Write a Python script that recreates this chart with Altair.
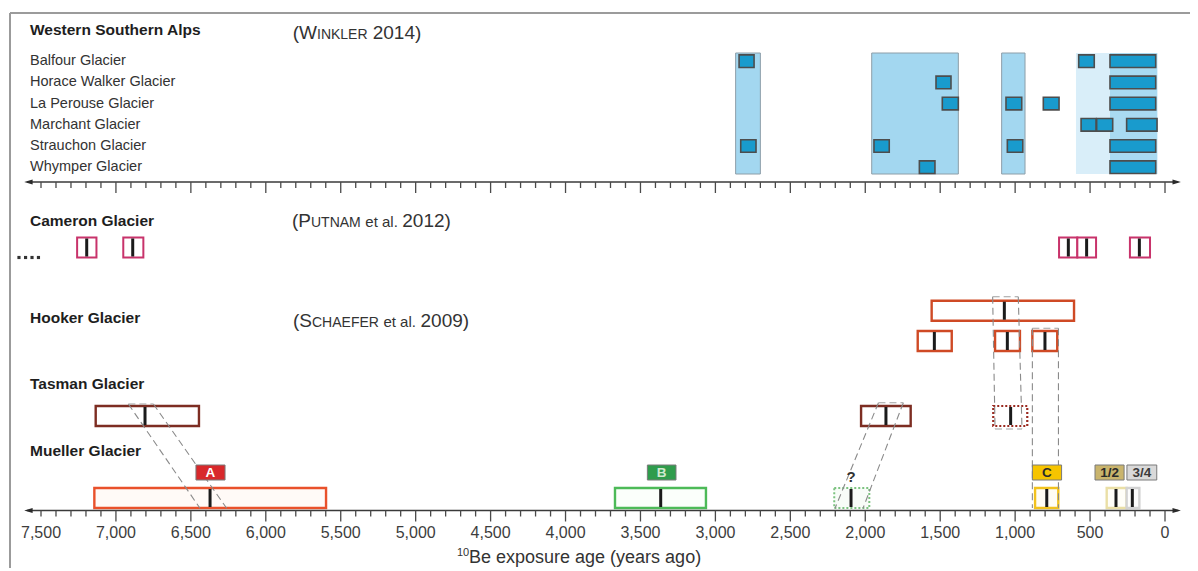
import altair as alt
import pandas as pd

# ================= DATA (ages in years before present) =================
TICK_YEARS = list(range(0, 7501, 100))
LABEL_YEARS = list(range(0, 7501, 500))
TICK_LABELS = ["0", "500", "1,000", "1,500", "2,000", "2,500", "3,000", "3,500",
               "4,000", "4,500", "5,000", "5,500", "6,000", "6,500", "7,000", "7,500"]

WSA_GLACIERS = ["Balfour Glacier", "Horace Walker Glacier", "La Perouse Glacier",
                "Marchant Glacier", "Strauchon Glacier", "Whymper Glacier"]

# Winkler 2014 shaded age bands (older edge, younger edge)
WSA_BAND_OLD = [2865, 1957, 1090, 594, 367]
WSA_BAND_YOUNG = [2700, 1379, 934, 367, 51]

# Winkler 2014 individual moraine ages
WSA_BOX_GLACIER = (["Balfour Glacier"] * 3 + ["Horace Walker Glacier"] * 2 +
                   ["La Perouse Glacier"] * 4 + ["Marchant Glacier"] * 3 +
                   ["Strauchon Glacier"] * 4 + ["Whymper Glacier"] * 2)
WSA_BOX_OLD = [2842, 576, 367, 1528, 367, 1486, 1061, 812, 367,
               560, 456, 256, 2831, 1942, 1052, 367, 1639, 367]
WSA_BOX_YOUNG = [2742, 472, 62, 1428, 62, 1379, 956, 707, 62,
                 460, 349, 53, 2729, 1840, 949, 62, 1535, 62]

# 10Be moraine ages: range and mean
AGE_SITE = ["Cameron"] * 5 + ["Hooker"] * 4 + ["Tasman"] * 3 + ["Mueller"] * 6
AGE_ID = ["C1", "C2", "C3", "C4", "C5", "H1", "H2", "H3", "H4",
          "T1", "T2", "T3", "A", "B", "?", "C", "1/2", "3/4"]
AGE_OLD = [7259, 6951, 707, 585, 234, 1557, 1650, 1134, 885,
           7135, 2028, 1146, 7144, 3670, 2207, 867, 389, 256]
AGE_YOUNG = [7130, 6817, 585, 460, 100, 607, 1423, 968, 719,
             6446, 1697, 919, 5598, 3063, 1973, 712, 256, 171]
AGE_MEAN = [7195, 6888, 645, 523, 171, 1072, 1539, 1052, 801,
            6806, 1862, 1030, 6372, 3365, 2095, 789, 327, 218]

MUELLER_LABEL = ["A", "B", "C", "1/2", "3/4"]
MUELLER_LABEL_OLD = [6466, 3454, 885, 467, 254]
MUELLER_LABEL_YOUNG = [6272, 3263, 690, 273, 55]

# dashed correlation lines (year at upper end, year at lower end)
LINK_YEAR_TOP = [6917, 6750, 1912, 1746, 1150, 979, 885, 711]
LINK_YEAR_BOTTOM = [6439, 6261, 2202, 2015, 1134, 954, 885, 711]
CAP_YEAR_OLD = [6917, 1912, 1150, 1134, 885]
CAP_YEAR_YOUNG = [6750, 1746, 979, 954, 711]

DOTS_YEAR = [7647, 7603, 7560, 7517]
AXIS_START, AXIS_END = 7592, -88
ARROW_LEFT, ARROW_RIGHT = 7584, -78

# ================= LAYOUT / STYLE =================
W, H = 1182, 560
FONT = "Liberation Sans"
XS = alt.Scale(domain=[7500, 0], range=[33, 1157])
YS = alt.Scale(domain=[0, H], range=[0, H])

WSA_ROW_Y = dict(zip(WSA_GLACIERS, [53.2, 74.4, 95.6, 116.8, 138.0, 159.2]))
WSA_BAND_TOP, WSA_BAND_BOTTOM = 45, 166
WSA_BOX_HALF = 6.3
WSA_BAND_STYLE = [("#a3d7f0", "#8d9ea8"), ("#a3d7f0", "#8d9ea8"), ("#a3d7f0", "#8d9ea8"),
                  ("#d9eef9", "transparent"), ("#a9daf1", "transparent")]

SITE_ROW_Y = {"Cameron": 239.5, "Tasman": 408, "Mueller": 490}
ID_ROW_Y = {"H1": 302.7, "H2": 333, "H3": 333, "H4": 333}
BOX_HALF = 10

SITE_STYLE = {"Cameron": ("#c8336b", "#ffffff", 2.0, False),
              "Hooker": ("#cf4a25", "#ffffff", 2.4, False),
              "Tasman": ("#7d2d22", "#ffffff", 2.4, False)}
ID_STYLE = {"T3": ("#9a2a20", "#ffffff", 2.2, True),
            "A": ("#e9512b", "#fffaf7", 2.4, False),
            "B": ("#4dba58", "#fbfffb", 2.4, False),
            "?": ("#7cc380", "#f8fcf8", 2.0, True),
            "C": ("#f2c21d", "#fffdf4", 2.4, False),
            "1/2": ("#eadfa6", "#fffef8", 2.4, False),
            "3/4": ("#d2d2d2", "#fcfcfc", 2.4, False)}
LABEL_STYLE = {"A": ("#d8282b", "#ffffff"), "B": ("#2f9c4c", "#cfe9cf"),
               "C": ("#f6c400", "#2a2a2a"), "1/2": ("#c9b46c", "#2a2a2a"),
               "3/4": ("#d9d9d9", "#3a3a3a")}
LABEL_TOP, LABEL_BOTTOM = 457, 472

LINK_Y_TOP = [396, 396, 394.7, 394.7, 288.7, 288.7, 320.3, 320.3]
LINK_Y_BOTTOM = [500.3, 500.3, 500.3, 500.3, 421, 421, 500, 500]
CAP_Y = [396, 394.7, 288.7, 421, 320.3]
AXIS_Y = [174, 502.5]
DOTS_Y = 249.5


def X(f):
    return alt.X(f"{f}:Q", scale=XS, axis=None)


def Y(f):
    return alt.Y(f"{f}:Q", scale=YS, axis=None)


one = pd.DataFrame({"k": [0]})
layers = []

# frame
layers.append(alt.Chart(one).mark_rule(color="#9b9b9b", strokeWidth=2).encode(
    x=alt.value(2), y=alt.value(5), y2=alt.value(H)))
layers.append(alt.Chart(one).mark_rule(color="#9b9b9b", strokeWidth=2).encode(
    x=alt.value(2), x2=alt.value(W), y=alt.value(5)))

# Winkler bands
bands = pd.DataFrame({"old": WSA_BAND_OLD, "young": WSA_BAND_YOUNG,
                      "fill": [s[0] for s in WSA_BAND_STYLE],
                      "stroke": [s[1] for s in WSA_BAND_STYLE]})
layers.append(alt.Chart(bands).mark_rect(strokeWidth=1).encode(
    x=X("old"), x2="young:Q", y=alt.value(WSA_BAND_TOP), y2=alt.value(WSA_BAND_BOTTOM),
    fill=alt.Fill("fill:N", scale=None), stroke=alt.Stroke("stroke:N", scale=None)))

# Winkler boxes
wb = pd.DataFrame({"glacier": WSA_BOX_GLACIER, "old": WSA_BOX_OLD, "young": WSA_BOX_YOUNG})
wb["y0"] = wb["glacier"].map(WSA_ROW_Y) - WSA_BOX_HALF
wb["y1"] = wb["glacier"].map(WSA_ROW_Y) + WSA_BOX_HALF
layers.append(alt.Chart(wb).mark_rect(fill="#199bcd", stroke="#4d4d4d", strokeWidth=1.6).encode(
    x=X("old"), x2="young:Q", y=Y("y0"), y2="y1:Q"))

# moraine age boxes
ages = pd.DataFrame({"site": AGE_SITE, "id": AGE_ID, "old": AGE_OLD,
                     "young": AGE_YOUNG, "mean": AGE_MEAN})
ages["yc"] = [ID_ROW_Y.get(i, SITE_ROW_Y.get(s)) for s, i in zip(AGE_SITE, AGE_ID)]
ages["y0"] = ages["yc"] - BOX_HALF
ages["y1"] = ages["yc"] + BOX_HALF
sty = [ID_STYLE.get(i, SITE_STYLE.get(s)) for s, i in zip(AGE_SITE, AGE_ID)]
ages["stroke"] = [s[0] for s in sty]
ages["fill"] = [s[1] for s in sty]
ages["sw"] = [s[2] for s in sty]
ages["dotted"] = [s[3] for s in sty]

solid = ages[~ages["dotted"]]
dotted = ages[ages["dotted"]]
layers.append(alt.Chart(solid).mark_rect().encode(
    x=X("old"), x2="young:Q", y=Y("y0"), y2="y1:Q",
    fill=alt.Fill("fill:N", scale=None), stroke=alt.Stroke("stroke:N", scale=None),
    strokeWidth=alt.StrokeWidth("sw:Q", scale=None)))
layers.append(alt.Chart(dotted).mark_rect(strokeDash=[2, 2]).encode(
    x=X("old"), x2="young:Q", y=Y("y0"), y2="y1:Q",
    fill=alt.Fill("fill:N", scale=None), stroke=alt.Stroke("stroke:N", scale=None),
    strokeWidth=alt.StrokeWidth("sw:Q", scale=None)))

# dashed correlation lines
links = pd.DataFrame({"a": LINK_YEAR_TOP, "b": LINK_YEAR_BOTTOM,
                      "ya": LINK_Y_TOP, "yb": LINK_Y_BOTTOM})
layers.append(alt.Chart(links).mark_rule(color="#8a8a8a", strokeWidth=1.1, strokeDash=[7, 4]).encode(
    x=X("a"), x2="b:Q", y=Y("ya"), y2="yb:Q"))
caps = pd.DataFrame({"a": CAP_YEAR_OLD, "b": CAP_YEAR_YOUNG, "y": CAP_Y})
layers.append(alt.Chart(caps).mark_rule(color="#a0a0a0", strokeWidth=1.1, strokeDash=[7, 4]).encode(
    x=X("a"), x2="b:Q", y=Y("y")))

# mean lines
ages["m0"] = ages["y0"] + 1
ages["m1"] = ages["y1"] - 1
layers.append(alt.Chart(ages).mark_rule(color="#1b1b1b", strokeWidth=3).encode(
    x=X("mean"), y=Y("m0"), y2="m1:Q"))

# Mueller labels
lab = pd.DataFrame({"label": MUELLER_LABEL, "old": MUELLER_LABEL_OLD, "young": MUELLER_LABEL_YOUNG})
lab["mid"] = (lab["old"] + lab["young"]) / 2
lab["fill"] = lab["label"].map(lambda l: LABEL_STYLE[l][0])
lab["tc"] = lab["label"].map(lambda l: LABEL_STYLE[l][1])
layers.append(alt.Chart(lab).mark_rect(stroke="#7a7a7a", strokeWidth=1).encode(
    x=X("old"), x2="young:Q", y=alt.value(LABEL_TOP), y2=alt.value(LABEL_BOTTOM),
    fill=alt.Fill("fill:N", scale=None)))
layers.append(alt.Chart(lab).mark_text(font=FONT, fontSize=13.5, fontWeight="bold", baseline="middle").encode(
    x=X("mid"), y=alt.value((LABEL_TOP + LABEL_BOTTOM) / 2 + 0.5), text="label:N",
    color=alt.Color("tc:N", scale=None)))
layers.append(alt.Chart(pd.DataFrame({"yr": [AGE_MEAN[AGE_ID.index("?")]]})).mark_text(
    font=FONT, fontSize=15, fontWeight="bold", color="#333333", baseline="middle", text="?").encode(
    x=X("yr"), y=alt.value(468.7)))

# axes
ax = pd.DataFrame({"y": AXIS_Y, "a": [AXIS_START] * 2, "b": [AXIS_END] * 2})
layers.append(alt.Chart(ax).mark_rule(color="#3a3a3a", strokeWidth=1.5).encode(
    x=X("a"), x2="b:Q", y=Y("y")))
arrows = pd.DataFrame({"y": AXIS_Y, "l": [ARROW_LEFT] * 2, "r": [ARROW_RIGHT] * 2})
layers.append(alt.Chart(arrows).mark_point(shape="M-1,0L1,-0.6L1,0.6Z", size=70, filled=True,
                                           color="#2a2a2a", opacity=1).encode(x=X("l"), y=Y("y")))
layers.append(alt.Chart(arrows).mark_point(shape="M1,0L-1,-0.6L-1,0.6Z", size=70, filled=True,
                                           color="#2a2a2a", opacity=1).encode(x=X("r"), y=Y("y")))
rows = []
for ay in AXIS_Y:
    for t in TICK_YEARS:
        major = (t % 500 == 0) and t != 7500
        rows.append({"t": t, "y0": ay, "y1": ay + (11 if major else 6)})
ticks = pd.DataFrame(rows)
layers.append(alt.Chart(ticks).mark_rule(color="#4a4a4a", strokeWidth=1.3).encode(
    x=X("t"), y=Y("y0"), y2="y1:Q"))
tl = pd.DataFrame({"t": LABEL_YEARS, "label": TICK_LABELS})
layers.append(alt.Chart(tl).mark_text(font=FONT, fontSize=16, color="#3d3d3d", baseline="middle").encode(
    x=X("t"), y=alt.value(525), text="label:N"))

# axis title
layers.append(alt.Chart(one).mark_text(font=FONT, fontSize=11, color="#333333", align="left",
                                       baseline="alphabetic", text="10").encode(
    x=alt.value(449), y=alt.value(548)))
layers.append(alt.Chart(one).mark_text(font=FONT, fontSize=18, color="#333333", align="left",
                                       baseline="alphabetic", text="Be exposure age (years ago)").encode(
    x=alt.value(461), y=alt.value(555)))

# Cameron "...."
layers.append(alt.Chart(pd.DataFrame({"yr": DOTS_YEAR})).mark_square(size=10, color="#333333", opacity=1).encode(
    x=X("yr"), y=alt.value(DOTS_Y)))

# titles
titles = pd.DataFrame({"text": ["Western Southern Alps", "Cameron Glacier", "Hooker Glacier",
                                "Tasman Glacier", "Mueller Glacier"],
                       "y": [22, 213, 310, 376, 443]})
layers.append(alt.Chart(titles).mark_text(font=FONT, fontSize=15.5, fontWeight="bold", color="#1e1e1e",
                                          align="left", baseline="middle").encode(
    x=alt.value(22), y=Y("y"), text="text:N"))
gl = pd.DataFrame({"text": WSA_GLACIERS, "y": [WSA_ROW_Y[g] for g in WSA_GLACIERS]})
layers.append(alt.Chart(gl).mark_text(font=FONT, fontSize=14.5, color="#333333",
                                      align="left", baseline="middle").encode(
    x=alt.value(22), y=Y("y"), text="text:N"))

# citations (small caps simulated)
cit = pd.DataFrame([
    ("(W", 284.7, 31, 19), ("INKLER", 309, 31, 14), ("2014)", 364.7, 31, 19),
    ("(P", 284, 219, 19), ("UTNAM", 303, 219, 14), ("et al.", 357.3, 219, 15), ("2012)", 394.3, 219, 19),
    ("(S", 285, 319, 19), ("CHAEFER", 304, 319, 14), ("et al.", 375.4, 319, 15), ("2009)", 412.5, 319, 19),
], columns=["text", "x", "y", "size"])
layers.append(alt.Chart(cit).mark_text(font=FONT, color="#333333", align="left", baseline="alphabetic").encode(
    x=alt.X("x:Q", scale=None), y=Y("y"), text="text:N", size=alt.Size("size:Q", scale=None)))

chart = alt.layer(*layers).properties(
    width=W, height=H, padding=0, autosize=alt.AutoSizeParams(type="none")
).configure_view(stroke=None)

chart.save("out.html", embed_options={"renderer": "svg", "actions": False})
